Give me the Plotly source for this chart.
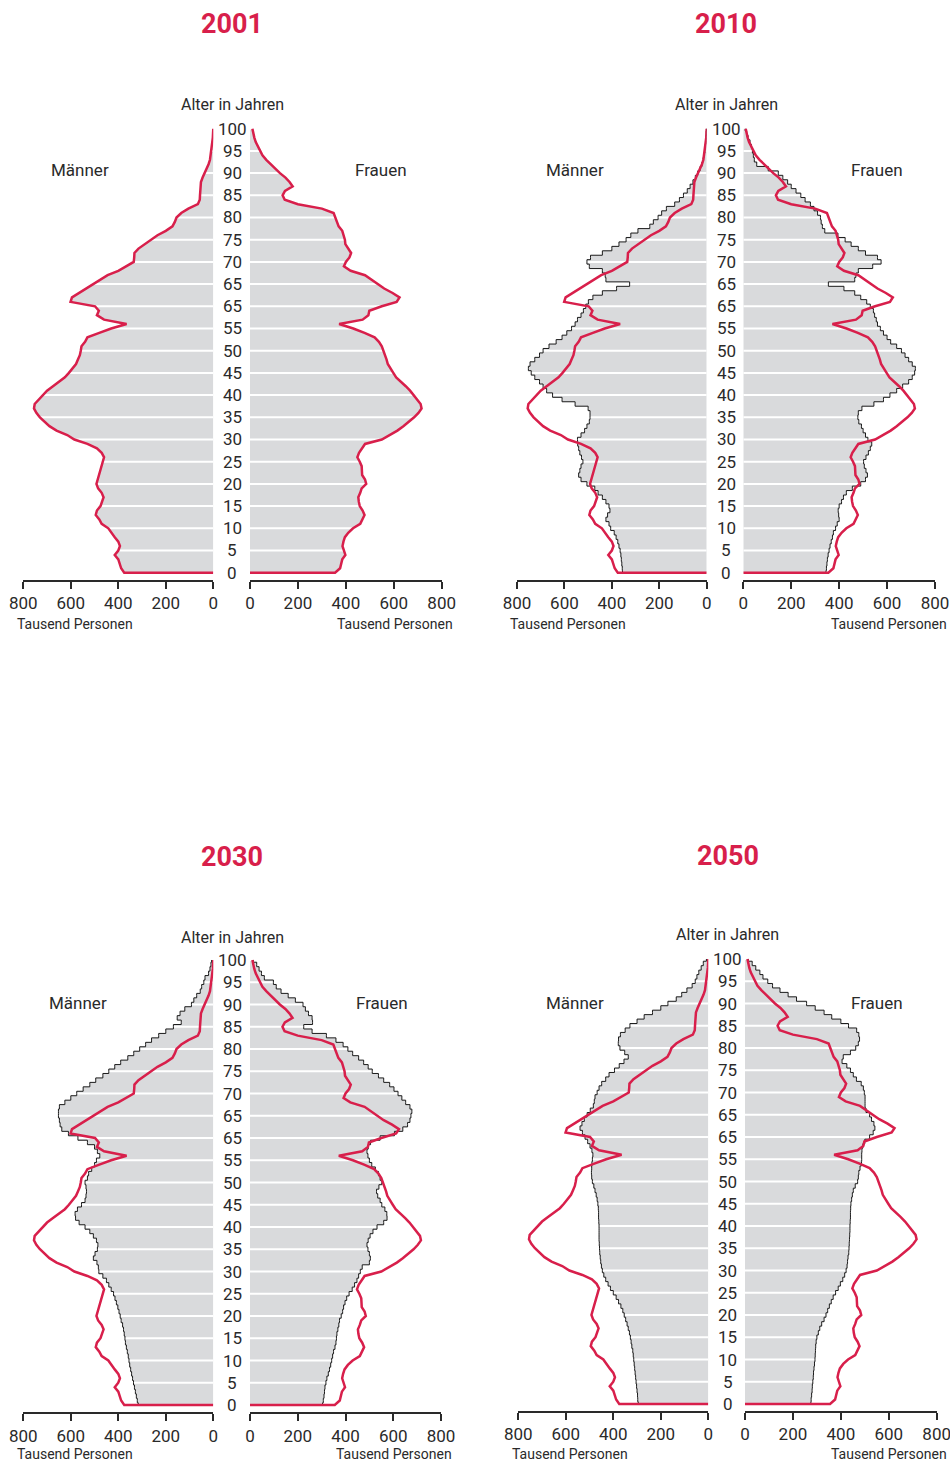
import plotly.graph_objects as go

# ---------------- data (thousand persons, age 0..100) ----------------
ages = list(range(0, 101))

male_2001 = [375,388,393,400,415,400,393,400,415,430,
             442,470,480,495,490,475,468,462,470,485,
             492,487,480,475,470,465,460,470,490,530,
             585,615,660,690,712,730,745,755,752,735,
             720,700,675,650,625,608,592,578,570,562,
             558,555,540,530,480,430,365,460,490,482,
             498,601,595,565,535,505,475,445,400,365,
             335,333,332,315,290,260,235,200,172,162,
             155,135,105,65,57,56,55,55,52,45,
             36,28,20,14,11,9,7,4,2,1,0]
female_2001 = [355,376,382,385,398,392,386,390,396,410,
               430,460,470,478,470,458,454,452,460,466,
               485,480,468,466,466,458,448,455,466,480,
               550,585,615,640,665,685,703,716,712,698,
               685,668,650,628,610,598,585,575,570,564,
               558,550,538,520,478,431,372,470,494,498,
               550,612,624,595,560,532,508,480,420,392,
               400,415,422,410,398,396,392,385,370,362,
               355,349,300,200,145,136,146,178,165,148,
               125,105,88,68,52,42,32,24,18,13,10]

male_2010 = [355,356,358,360,362,365,370,375,382,390,
             405,412,425,418,408,412,425,440,458,472,
             505,530,540,535,530,522,528,535,540,544,
             545,530,515,505,495,492,492,500,555,610,
             650,675,690,705,725,740,752,745,725,705,
             690,665,635,610,590,570,555,545,530,520,
             510,499,480,440,380,325,425,428,440,495,
             505,490,440,400,370,340,320,290,240,225,
             205,190,170,135,115,98,82,70,58,48,
             38,28,20,15,12,8,6,4,3,2,1]
female_2010 = [345,347,349,351,354,358,362,367,372,376,
               385,392,400,398,396,400,410,418,430,455,
               490,510,518,512,505,502,512,522,530,536,
               520,510,500,493,482,478,480,495,545,585,
               612,640,665,690,705,715,718,705,690,675,
               660,640,615,600,585,572,560,555,548,543,
               530,515,490,465,420,355,465,470,480,540,
               575,560,510,480,450,425,395,340,330,325,
               322,310,295,280,258,240,220,200,185,165,
               146,104,56,46,42,38,34,28,20,14,8]

male_2030 = [316,320,324,328,332,336,340,344,348,352,
             355,358,362,366,370,372,375,378,382,388,
             392,397,402,408,414,420,430,440,450,465,
             482,484,490,505,498,488,486,492,505,520,
             540,565,580,582,572,555,540,536,534,536,
             540,530,525,512,500,492,478,488,500,530,
             570,610,638,645,648,652,652,648,625,600,
             575,548,520,495,465,440,415,390,360,335,
             310,285,260,230,200,168,135,152,140,120,
             92,82,70,55,49,40,35,20,14,10,7]
female_2030 = [304,307,310,312,314,318,322,328,333,338,
               342,346,350,356,360,362,364,368,372,375,
               382,388,392,398,405,415,428,438,448,455,
               462,470,500,504,500,494,490,495,503,515,
               532,560,574,573,565,552,545,535,530,540,
               552,545,538,525,510,500,494,490,495,505,
               545,605,640,660,670,674,678,670,652,636,
               620,603,585,560,538,512,495,476,455,430,
               410,390,360,320,260,225,262,260,245,232,
               222,190,160,130,110,98,60,48,38,28,14]

male_2050 = [295,297,298,300,302,304,306,308,310,312,
             314,316,318,322,325,328,332,337,342,348,
             354,360,368,378,388,400,412,422,432,440,
             446,450,453,455,457,458,459,460,460,460,
             460,461,462,462,463,465,468,472,477,482,
             488,491,492,491,490,488,486,490,498,508,
             519,530,540,532,522,510,497,484,480,477,
             468,460,449,432,418,395,375,355,337,352,
             372,379,378,370,350,330,300,270,235,200,
             170,135,112,90,68,55,48,40,30,21,8]
female_2050 = [275,276,278,280,281,283,285,286,288,290,
               292,293,294,295,297,300,306,312,320,330,
               338,345,352,360,368,378,389,398,408,416,
               422,426,428,430,433,434,435,436,437,438,
               438,439,440,440,441,442,445,448,452,460,
               470,473,475,480,486,487,487,488,492,500,
               520,535,542,538,528,520,505,501,501,501,
               498,494,485,465,452,440,425,405,410,440,
               462,473,478,475,466,432,400,362,330,293,
               257,215,180,146,115,95,75,62,45,30,14]

years = ["2001", "2010", "2030", "2050"]
males = [male_2001, male_2010, male_2030, male_2050]
females = [female_2001, female_2010, female_2030, female_2050]
ref_male = male_2001
ref_female = female_2001

age_ticks = [0, 5, 10, 15, 20, 25, 30, 35, 40, 45, 50, 55, 60, 65, 70, 75, 80, 85, 90, 95, 100]
age_tick_labels = ["0", "5", "10", "15", "20", "25", "30", "35", "40", "45", "50", "55",
                   "65", "65", "70", "75", "80", "85", "90", "95", "100"]
x_ticks = [0, 200, 400, 600, 800]
x_tick_labels = ["0", "200", "400", "600", "800"]

# ---------------- styling / geometry (pixels) ----------------
W, H = 950, 1461
RED = "#d81f4b"
GREY = "#d9dadc"
INK = "#2a2a2a"
FONT = "Roboto"

geom = [
    dict(l800=23.3, l0=213.3, r0=250.0, r800=441.7, age0=572.7, axis=580.0, ppy=4.44, cx=232.0,
         ty=24, ay=104, mfy=170, mx=79.5, fx=380.5, tpy=624, tpl=15, tpr=455),
    dict(l800=517.0, l0=706.7, r0=743.3, r800=935.0, age0=572.7, axis=580.0, ppy=4.44, cx=726.0,
         ty=24, ay=104, mfy=170, mx=574.5, fx=877.0, tpy=624, tpl=508, tpr=948.5),
    dict(l800=23.3, l0=213.3, r0=250.0, r800=441.0, age0=1405.0, axis=1412.3, ppy=4.45, cx=232.0,
         ty=857, ay=937, mfy=1003, mx=78.0, fx=382.0, tpy=1454, tpl=15, tpr=454),
    dict(l800=518.3, l0=708.3, r0=745.0, r800=936.7, age0=1404.0, axis=1411.0, ppy=4.45, cx=727.5,
         ty=856, ay=935, mfy=1003, mx=574.5, fx=877.0, tpy=1454, tpl=510, tpr=949),
]

fig = go.Figure()
layout = dict(width=W, height=H, margin=dict(l=0, r=0, t=0, b=0, pad=0, autoexpand=False),
              autosize=False,
              paper_bgcolor="white", plot_bgcolor="rgba(0,0,0,0)", showlegend=False,
              font=dict(family=FONT, color=INK), hovermode=False)
annotations = []

def ann(text, x, y, size, xanchor="center", color=INK, yref="paper"):
    annotations.append(dict(text=text, x=x, y=y, xref="paper", yref=yref, showarrow=False,
                            xanchor=xanchor, yanchor="middle",
                            font=dict(family=FONT, size=size, color=color)))

grid_x = []
grid_y = []
for a in age_ticks[1:]:
    grid_x += [0, 800, None]
    grid_y += [a, a, None]

n = 0
for i, year in enumerate(years):
    g = geom[i]
    ymax = 101
    ymin = -(g["axis"] - g["age0"]) / g["ppy"]
    top_px = g["age0"] - ymax * g["ppy"]
    ydom = [1 - g["axis"] / H, 1 - top_px / H]
    first_y = None
    for side in ("L", "R"):
        n += 1
        xs = "" if n == 1 else str(n)
        if side == "L":
            vals, ref, dom, rng = males[i], ref_male, (g["l800"], g["l0"]), [800, 0]
        else:
            vals, ref, dom, rng = females[i], ref_female, (g["r0"], g["r800"]), [0, 800]
        layout["xaxis" + xs] = dict(domain=[dom[0] / W, dom[1] / W], range=rng, anchor="y" + xs,
                                    tickvals=x_ticks, ticktext=x_tick_labels,
                                    showline=True, linecolor=INK, linewidth=2,
                                    ticks="outside", ticklen=7, tickwidth=2, tickcolor=INK,
                                    tickfont=dict(size=17, family=FONT, color=INK),
                                    ticklabeloverflow="allow",
                                    showgrid=False, zeroline=False, fixedrange=True,
                                    automargin=False)
        layout["yaxis" + xs] = dict(domain=ydom, range=[ymin, ymax], anchor="x" + xs,
                                    visible=False, fixedrange=True, automargin=False)
        if first_y is None:
            first_y = "y" + xs
        xr, yr = "x" + xs, "y" + xs
        if i == 0:
            # reference year: grey area bounded by the red line itself
            fig.add_trace(go.Scatter(x=[0] + vals, y=[0] + ages, mode="lines", fill="tozerox",
                                     fillcolor=GREY, line=dict(width=0, color=GREY),
                                     xaxis=xr, yaxis=yr))
        else:
            fig.add_trace(go.Scatter(x=vals, y=ages, mode="lines", fill="tozerox",
                                     fillcolor=GREY, line=dict(width=0, color=GREY, shape="vhv"),
                                     xaxis=xr, yaxis=yr))
        fig.add_trace(go.Scatter(x=grid_x, y=grid_y, mode="lines",
                                 line=dict(color="white", width=2), xaxis=xr, yaxis=yr))
        if i > 0:
            fig.add_trace(go.Scatter(x=vals, y=ages, mode="lines",
                                     line=dict(color="#1a1a1a", width=1, shape="vhv"),
                                     xaxis=xr, yaxis=yr))
        fig.add_trace(go.Scatter(x=[0] + ref, y=[0] + ages, mode="lines",
                                 line=dict(color=RED, width=2.5), xaxis=xr, yaxis=yr))
    # texts
    ann("<b>" + year + "</b>", g["cx"] / W, 1 - g["ty"] / H, 27, color=RED)
    ann("Alter in Jahren", g["cx"] / W, 1 - g["ay"] / H, 16)
    ann("Männer", g["mx"] / W, 1 - g["mfy"] / H, 17)
    ann("Frauen", g["fx"] / W, 1 - g["mfy"] / H, 17)
    ann("Tausend Personen", g["tpl"] / W, 1 - g["tpy"] / H, 14, xanchor="left")
    ann("Tausend Personen", g["tpr"] / W, 1 - g["tpy"] / H, 14, xanchor="right")
    for a, lab in zip(age_ticks, age_tick_labels):
        ann(lab, g["cx"] / W, a, 17, yref=first_y)

layout["annotations"] = annotations
fig.update_layout(**layout)
fig.write_html(
    "out.html",
    config={"responsive": False, "displayModeBar": False},
    post_script="document.body.style.margin='0';document.body.style.padding='0';"
                "document.body.style.overflow='hidden';"
                "document.documentElement.style.overflow='hidden';",
)
